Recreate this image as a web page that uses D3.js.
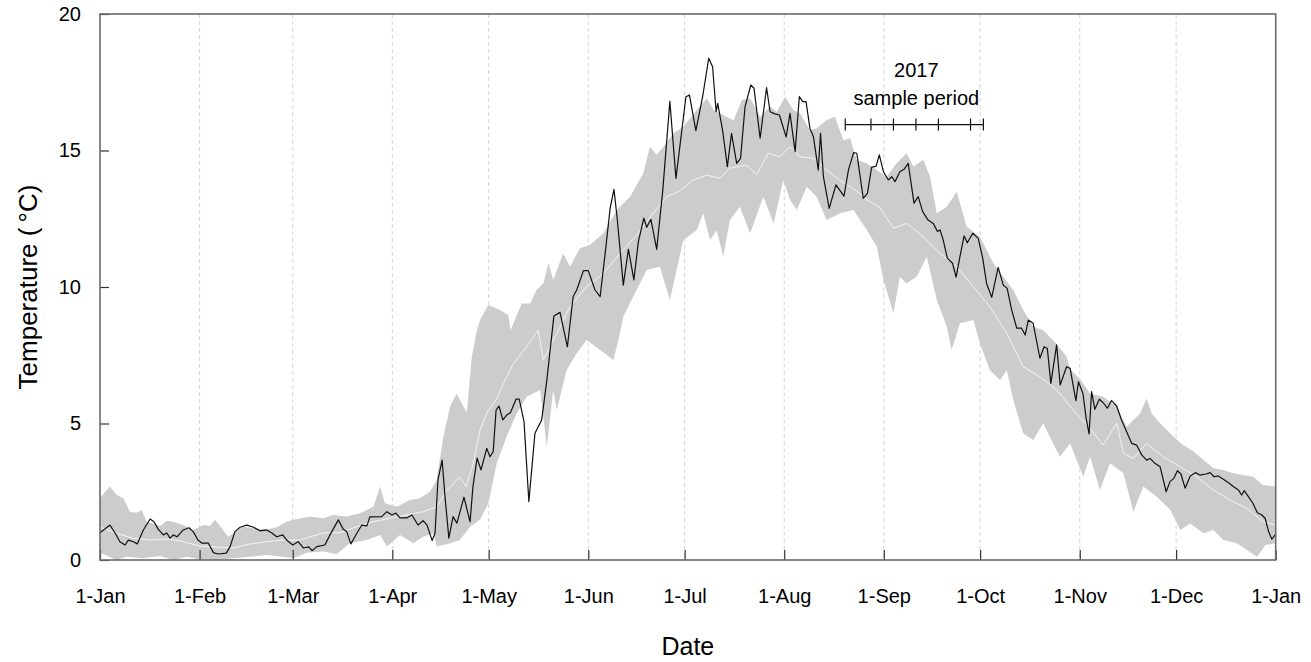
<!DOCTYPE html>
<html>
<head>
<meta charset="utf-8">
<script src="https://cdn.jsdelivr.net/npm/d3@7"></script>
<style>
  body { margin: 0; background: #fff; }
  svg text { font-family: Arial, "Liberation Sans", sans-serif; fill: #000; }
</style>
</head>
<body>
<div id="chart"></div>
<script>
'use strict';

// day of year (0 = 1-Jan, leap-year axis) and temperature in degC

var monthDays = [0, 31, 60, 91, 121, 152, 182, 213, 244, 274, 305, 335, 366];
var monthLabels = ['1-Jan', '1-Feb', '1-Mar', '1-Apr', '1-May', '1-Jun', '1-Jul',
  '1-Aug', '1-Sep', '1-Oct', '1-Nov', '1-Dec', '1-Jan'];
var tempTicks = [0, 5, 10, 15, 20];
var sampleDays = [232, 240, 247, 254, 261, 271, 275];

// upper edge of the grey range band
var bandUpper = [
  [0,2.26],[3,2.69],[5.2,2.38],[7.3,2.26],[9.3,1.77],[11.4,1.73],[13,1.83],[14.5,1.4],
  [16.6,1.34],[18.7,1.25],[20.8,1.44],[22.8,1.4],[25.9,1.28],[29,1.1],[32.2,1.28],
  [34.2,1.25],[35.8,1.47],[37.9,1.16],[39.9,0.85],[41.5,0.98],[44.6,1.22],[47.7,1.16],
  [51.9,1.12],[55,1.2],[57.6,1.37],[60.2,1.47],[65.4,1.59],[69.5,1.53],[72.6,1.65],
  [76.8,1.59],[80.9,1.71],[85.1,1.95],[87.2,2.69],[88.7,2.08],[92.4,1.95],[96.5,2.2],
  [99.6,2.26],[102.7,2.5],[104.8,2.93],[106.9,4.52],[109,5.62],[111,6.1],[112.6,5.74],
  [114.2,5.4],[115.7,7.4],[117.3,8.4],[118.3,8.79],[120.9,9.34],[124.5,9.16],[127.1,8.97],
  [127.8,8.42],[131.3,9.4],[133.9,9.4],[135.9,9.89],[138,10.13],[139.6,10.87],[141.1,10.26],
  [144.2,11.23],[146.3,10.74],[149.4,11.42],[152.5,11.54],[156.7,11.97],[160.9,12.82],
  [165,13.31],[169.1,14.16],[171.2,15.14],[173.3,14.84],[175.4,15.14],[178.5,15.63],
  [181.6,15.87],[185.8,16.48],[188.9,16.91],[191,16.48],[194,16.3],[197.2,16.1],
  [199.8,16.85],[202.4,16.91],[205.5,16.24],[208.6,16.6],[210.7,16.42],[213.3,16.97],
  [215.8,16.48],[217.9,16.36],[221,15.75],[223.1,15.81],[226.2,16.12],[228.8,16.24],
  [231.4,15.38],[233.5,15.45],[235.6,14.65],[238.7,14.53],[241.8,14.29],[244.9,14.04],
  [248,14.53],[251.1,14.9],[253.2,14.41],[256.3,14.65],[258.4,14.04],[260.5,12.7],
  [263.6,12.94],[266.7,13.49],[269.8,12.21],[273.9,11.84],[276,11.36],[278.1,10.87],
  [281.2,10.38],[284.3,9.89],[287.4,9.16],[290.5,8.55],[293.6,8.42],[296.7,8.06],
  [300.9,7.45],[302,7.0],[305.3,6.59],[308.2,6.1],[312.3,5.98],[316.5,5.62],[319.6,4.88],
  [321.7,5.13],[323.8,5.37],[325.8,5.92],[327.4,5.37],[329.5,5.07],[332.1,4.76],
  [334.1,4.52],[337.2,4.21],[340.4,3.97],[343.5,3.66],[346.6,3.36],[349.7,3.3],
  [352.8,3.18],[355.9,3.11],[359,3.05],[362.1,2.75],[366,2.69]
];

// lower edge of the grey range band
var bandLower = [
  [0,0.27],[5.2,0],[8.3,0.12],[13.5,0.06],[18.7,0.15],[22.8,0],[27,0.12],[31.1,0.03],
  [36.3,0],[41.5,0.06],[46.7,0.12],[51.9,0.18],[57,0.12],[60.2,0.06],[64.3,0.27],
  [69.5,0.31],[73.7,0.22],[77.8,0.61],[83,0.73],[87.2,0.92],[89.3,0.49],[93.4,0.92],
  [97.5,0.61],[100.6,0.85],[103.8,0.98],[104.8,0.5],[107,0.55],[109,0.61],[112,0.73],
  [115.2,1.22],[118.3,1.47],[120.9,2.08],[123.5,3.54],[126.6,4.52],[129.7,5.37],
  [132.8,5.98],[137,6.23],[139.1,4.15],[141.1,6.23],[142.2,5.49],[145.3,6.96],[148.4,7.57],
  [151.5,8.06],[155.7,7.69],[159.8,7.33],[161.4,8.06],[162.9,8.91],[166,9.65],[170.2,10.62],
  [174.3,10.74],[177.4,9.52],[181.6,11.72],[185.8,12.09],[187.8,12.7],[189.9,11.72],
  [192,12.09],[194,11.11],[196.1,12.45],[199.2,12.94],[202.4,11.97],[206.5,13.31],
  [209.7,12.33],[212.7,13.92],[214.8,13.19],[216.9,12.82],[220,13.67],[223.1,13.31],
  [226.2,12.45],[230.4,12.7],[234.6,12.82],[238.7,12.09],[241.8,11.48],[243.9,10.26],
  [247,9.04],[249,10.38],[251.1,10.13],[254.2,10.38],[257.4,11.11],[260.5,9.52],
  [263.6,8.55],[265.1,7.69],[267.7,8.67],[271.9,8.79],[273.9,7.94],[277,6.96],[280.2,6.59],
  [282.3,6.96],[284.3,5.86],[287.4,4.64],[290.5,4.4],[293.6,5.01],[298.8,3.78],[302,4.27],
  [306.1,3.05],[308.2,3.78],[311.3,2.56],[314.4,3.54],[318.6,3.18],[321.7,1.77],
  [324.8,2.69],[329,2.32],[333.2,1.83],[336.3,1.1],[339.4,1.34],[343.5,0.98],[346.6,1.1],
  [349.7,0.73],[353.9,0.61],[357,0.37],[360.2,0.12],[362.8,0.55],[366,0.61]
];

// long-term mean (white line)
var meanTemp = [
  [0,1.2],[5,0.99],[10,0.8],[15.6,0.73],[21,0.77],[26,0.67],[31,0.51],[36,0.48],
  [41.5,0.44],[46.7,0.59],[52,0.67],[57,0.73],[62,0.73],[69.5,0.99],[74.7,1.0],[80,1.22],
  [85,1.4],[90.3,1.53],[95.5,1.65],[100.6,1.77],[104.9,1.95],[108,2.56],[112,3.05],
  [114,2.69],[116.2,3.54],[118.3,4.76],[120.9,5.49],[123.5,5.9],[125.6,6.47],[128.7,7.2],
  [132.8,7.81],[136.4,8.42],[138,7.33],[142.2,8.3],[146.3,9.28],[151.5,10.01],[156.7,10.5],
  [161.9,11.23],[167.1,11.9],[172.2,12.7],[176.4,13.31],[180.5,13.52],[184.7,13.92],
  [188.9,14.1],[193,13.98],[196.1,14.35],[201.3,14.47],[204.4,14.1],[208,14.9],
  [211.7,14.77],[214.8,15.14],[217.9,14.77],[222.1,14.71],[226.2,14.29],[230.4,13.9],
  [234.6,13.6],[238.7,13.2],[242.9,12.9],[247,12.15],[251.1,12.33],[256.3,11.84],
  [261.5,11.23],[266.7,10.74],[271.9,10.01],[277,9.28],[282.3,8.3],[287.4,7.08],
  [292.6,6.71],[297.8,6.23],[303,5.49],[307.3,4.95],[312.3,4.21],[316.5,5.01],[318.6,3.91],
  [321.7,3.72],[325.8,4.27],[331,3.78],[336.2,3.42],[341.4,3.05],[346.6,2.56],[351.8,2.2],
  [357,1.89],[362.1,1.4],[366,1.28]
];

// 2017 daily temperature (black line)
var obs2017 = [
  [0,1.0],[3.1,1.28],[4.7,0.99],[6.2,0.67],[7.8,0.55],[8.8,0.73],[10.4,0.67],[11.6,0.59],
  [13.5,1.1],[15.6,1.5],[16.8,1.4],[18.1,1.13],[19.7,0.92],[20.8,0.99],[21.8,0.8],
  [22.8,0.92],[24,0.85],[25.9,1.1],[27.7,1.18],[29,1.04],[30.5,0.73],[31.7,0.62],
  [33.7,0.62],[35.3,0.27],[36.8,0.22],[39.3,0.25],[40.5,0.49],[42,1.04],[43.6,1.2],
  [45.7,1.28],[47.8,1.2],[49.8,1.07],[51.9,1.1],[53.5,0.99],[55,0.85],[56.9,0.92],
  [58.1,0.73],[60,0.55],[61.7,0.67],[63.3,0.44],[65,0.48],[66,0.34],[67.5,0.49],[70,0.55],
  [71.6,0.92],[74.2,1.47],[75.7,1.13],[76.8,1.04],[78.1,0.59],[80,0.99],[81.5,1.28],
  [83.1,1.25],[84,1.58],[87.7,1.59],[89.3,1.77],[90.9,1.65],[92.1,1.72],[93.4,1.54],
  [95.5,1.54],[97.1,1.65],[99,1.28],[100.6,1.44],[101.8,1.28],[103.4,0.71],[104.3,0.99],
  [105.2,2.93],[106.5,3.66],[107.4,2.32],[108.6,0.8],[109.9,1.59],[111.1,1.35],[113.3,2.3],
  [115.2,1.4],[116.1,2.69],[117.4,3.73],[118.6,3.3],[120.4,4.09],[121.4,3.78],[122.4,3.97],
  [123.3,5.49],[124.2,5.64],[125.4,5.13],[126.6,5.31],[127.8,5.4],[129.5,5.89],[130.5,5.89],
  [132,5.07],[133.5,2.14],[135.4,4.64],[137.5,5.13],[139.1,6.59],[141.3,8.94],[143.2,9.07],
  [145.5,7.81],[147.3,9.65],[148.4,9.89],[150.5,10.6],[152,10.6],[154.1,9.89],[155.7,9.65],
  [157.5,11.48],[158.8,12.88],[160,13.58],[161,12.52],[162.9,10.07],[164.5,11.38],
  [166.2,10.26],[167.6,11.66],[169.3,12.52],[170.2,12.19],[171.5,12.48],[173.3,11.38],
  [175.2,13.55],[177.4,16.8],[179.3,13.98],[182.4,16.97],[183.5,17.03],[185.5,15.73],
  [187.6,16.97],[189.5,18.38],[190.7,18.07],[191.8,16.42],[192.3,16.73],[193.8,15.75],
  [195.3,14.41],[196.6,15.63],[198.2,14.53],[199.4,14.71],[200.8,16.6],[202.6,17.4],
  [203.6,17.28],[205.5,15.45],[207.5,17.3],[208.6,16.42],[210.1,16.34],[211.5,16.3],
  [213.6,15.5],[214.8,16.36],[216.4,14.96],[217.7,16.97],[218.8,16.79],[219.8,16.79],
  [221,15.81],[222.1,15.5],[223.6,14.29],[224.3,15.63],[225.2,14.04],[227,12.88],
  [229.1,13.74],[231.6,13.33],[233,14.29],[234.6,14.92],[235.6,14.9],[237.6,13.25],
  [238.9,13.43],[240.2,14.38],[241.6,14.43],[242.6,14.84],[243.9,14.22],[245.4,13.92],
  [246.5,14.04],[247.5,13.86],[249,14.22],[250.3,14.31],[251.6,14.53],[253.4,13.07],
  [254.7,13.31],[256.1,12.76],[257.8,12.45],[259.4,12.33],[260.7,12.03],[261.5,12.09],
  [262.5,11.72],[263.8,11.05],[265.4,10.87],[266.5,10.36],[267.7,11.11],[269,11.87],
  [270,11.62],[271.7,11.97],[273.4,11.78],[274.8,11.05],[276,10.13],[277.6,9.62],
  [279.6,10.72],[281.2,10.07],[282.4,9.95],[283.8,9.16],[285.4,8.49],[286.9,8.49],
  [288,8.24],[289,8.79],[290.5,8.67],[292.6,7.39],[293.9,7.81],[294.9,7.75],[296,6.47],
  [297.8,7.88],[298.9,6.41],[300.9,7.08],[302,7.02],[303.8,5.84],[304.6,6.53],[306,6.1],
  [307,5.19],[307.9,4.62],[308.7,6.17],[309.7,5.52],[311.1,5.89],[312.3,5.76],[313.6,5.56],
  [314.9,5.84],[316.5,5.64],[318,5.13],[319.6,4.7],[321.2,4.27],[322.7,4.21],[324.3,3.85],
  [325.8,3.66],[326.9,3.72],[328.4,3.54],[330,3.42],[331.9,2.5],[333.1,2.87],[334.3,2.99],
  [335.4,3.27],[336.5,3.15],[337.8,2.63],[339.4,3.08],[341,3.2],[342.4,3.11],[344.3,3.15],
  [345.6,3.2],[346.8,3.05],[348.1,3.08],[349.7,2.96],[351.3,2.83],[352.8,2.69],[354.4,2.56],
  [355.4,2.38],[356.2,2.54],[357.5,2.32],[358.9,2.08],[360.3,1.73],[361.7,1.65],
  [362.7,1.53],[363.8,1.04],[364.8,0.76],[365.8,0.92]
];

var width = 1311;
var height = 662;
var margin = { top: 14, right: 35.3, bottom: 102, left: 100 };
var plotW = width - margin.left - margin.right;
var plotH = height - margin.top - margin.bottom;

var svg = d3.select('#chart')
  .append('svg')
  .attr('width', width)
  .attr('height', height);

var g = svg.append('g')
  .attr('transform', 'translate(' + margin.left + ',' + margin.top + ')');

var x = d3.scaleLinear().domain([0, 366]).range([0, plotW]);
var y = d3.scaleLinear().domain([0, 20]).range([plotH, 0]);

g.append('clipPath').attr('id', 'clip')
  .append('rect').attr('width', plotW).attr('height', plotH);

// dashed month gridlines
g.selectAll('.grid')
  .data(monthDays.slice(1, -1))
  .enter()
  .append('line')
  .attr('x1', function(d) { return x(d); })
  .attr('x2', function(d) { return x(d); })
  .attr('y1', 0)
  .attr('y2', plotH)
  .attr('stroke', '#d4d4d4')
  .attr('stroke-width', 1)
  .attr('stroke-dasharray', '4,3');

var line = d3.line()
  .x(function(d) { return x(d[0]); })
  .y(function(d) { return y(d[1]); });

var plot = g.append('g').attr('clip-path', 'url(#clip)');

// range band: upper edge forward, lower edge back
var bandPts = bandUpper.concat(bandLower.slice().reverse());
plot.append('path')
  .attr('d', line(bandPts) + 'Z')
  .attr('fill', '#cccccc')
  .attr('stroke', 'none');

plot.append('path')
  .attr('d', line(meanTemp))
  .attr('fill', 'none')
  .attr('stroke', '#f4f4f4')
  .attr('stroke-width', 1);

plot.append('path')
  .attr('d', line(obs2017))
  .attr('fill', 'none')
  .attr('stroke', '#111')
  .attr('stroke-width', 1.2)
  .attr('stroke-linejoin', 'round');

// x axis (ticks inside)
var xAxis = d3.axisBottom(x)
  .tickValues(monthDays)
  .tickFormat(function(d, i) { return monthLabels[i]; })
  .tickSizeInner(-10)
  .tickSizeOuter(0)
  .tickPadding(29);
var gx = g.append('g')
  .attr('transform', 'translate(0,' + plotH + ')')
  .call(xAxis);
gx.select('.domain').remove();
gx.selectAll('.tick line').attr('stroke', '#333').attr('stroke-width', 1.2);
gx.selectAll('.tick text')
  .attr('font-size', 20)
  .attr('font-family', 'Arial, "Liberation Sans", sans-serif')
  .attr('fill', '#000');

// y axis (ticks inside)
var yAxis = d3.axisLeft(y)
  .tickValues(tempTicks)
  .tickSizeInner(-9)
  .tickSizeOuter(0)
  .tickPadding(19);
var gy = g.append('g').call(yAxis);
gy.select('.domain').remove();
gy.selectAll('.tick line').attr('stroke', '#333').attr('stroke-width', 1.2);
gy.selectAll('.tick text')
  .attr('font-size', 20)
  .attr('font-family', 'Arial, "Liberation Sans", sans-serif')
  .attr('fill', '#000');

// frame
g.append('rect')
  .attr('width', plotW)
  .attr('height', plotH)
  .attr('fill', 'none')
  .attr('stroke', '#6a6a6a')
  .attr('stroke-width', 1.6);

// axis titles
svg.append('text')
  .attr('x', margin.left + plotW / 2)
  .attr('y', 655)
  .attr('text-anchor', 'middle')
  .attr('font-size', 25)
  .text('Date');

svg.append('text')
  .attr('transform', 'translate(37,' + (margin.top + plotH / 2) + ') rotate(-90)')
  .attr('text-anchor', 'middle')
  .attr('font-size', 26)
  .text('Temperature (\u2009\u00b0C)');

// 2017 sample period annotation
var barY = y(15.95);
var ann = g.append('g');
ann.append('line')
  .attr('x1', x(d3.min(sampleDays)))
  .attr('x2', x(d3.max(sampleDays)))
  .attr('y1', barY)
  .attr('y2', barY)
  .attr('stroke', '#111')
  .attr('stroke-width', 1.2);
ann.selectAll('.stick')
  .data(sampleDays)
  .enter()
  .append('line')
  .attr('x1', function(d) { return x(d); })
  .attr('x2', function(d) { return x(d); })
  .attr('y1', barY - 6)
  .attr('y2', barY + 6)
  .attr('stroke', '#111')
  .attr('stroke-width', 1.2);
var annX = x((d3.min(sampleDays) + d3.max(sampleDays)) / 2) + 2;
ann.append('text')
  .attr('x', annX)
  .attr('y', y(17.69))
  .attr('text-anchor', 'middle')
  .attr('font-size', 20)
  .text('2017');
ann.append('text')
  .attr('x', annX)
  .attr('y', y(16.66))
  .attr('text-anchor', 'middle')
  .attr('font-size', 20)
  .text('sample period');
</script>
</body>
</html>
